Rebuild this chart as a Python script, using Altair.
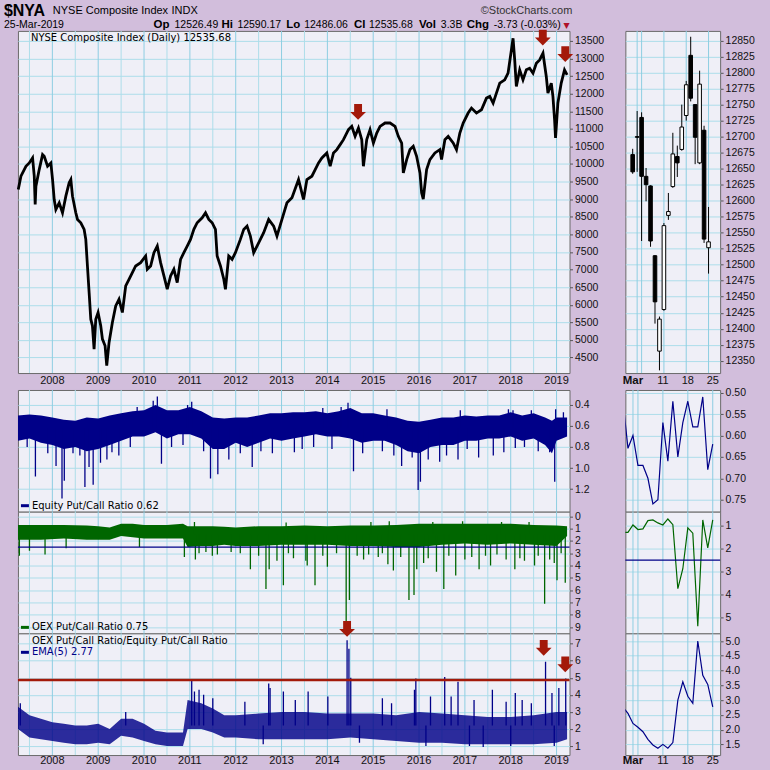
import altair as alt
import pandas as pd

# ===================== DATA =====================
# NYSE Composite, daily chart traced as (decimal year, price)
PRICE_T = [2007.256, 2007.314, 2007.423, 2007.496, 2007.568, 2007.605, 2007.625, 2007.641, 2007.713, 2007.786,
           2007.822, 2007.895, 2007.967, 2008.004, 2008.040, 2008.076, 2008.149, 2008.221, 2008.294, 2008.366,
           2008.403, 2008.439, 2008.511, 2008.548, 2008.620, 2008.693, 2008.729, 2008.765, 2008.802, 2008.838,
           2008.874, 2008.910, 2008.947, 2008.997, 2009.055, 2009.092, 2009.150, 2009.186, 2009.237, 2009.309,
           2009.382, 2009.454, 2009.527, 2009.600, 2009.672, 2009.745, 2009.817, 2009.926, 2010.035, 2010.071,
           2010.144, 2010.216, 2010.289, 2010.361, 2010.434, 2010.506, 2010.579, 2010.651, 2010.724, 2010.797,
           2010.869, 2010.942, 2011.014, 2011.087, 2011.159, 2011.268, 2011.341, 2011.413, 2011.486, 2011.558,
           2011.595, 2011.667, 2011.740, 2011.776, 2011.848, 2011.921, 2011.993, 2012.102, 2012.175, 2012.247,
           2012.320, 2012.392, 2012.465, 2012.538, 2012.610, 2012.719, 2012.828, 2012.900, 2013.009, 2013.118,
           2013.227, 2013.371, 2013.480, 2013.553, 2013.662, 2013.734, 2013.807, 2013.880, 2013.988, 2014.061,
           2014.133, 2014.206, 2014.279, 2014.351, 2014.460, 2014.532, 2014.605, 2014.678, 2014.750, 2014.786,
           2014.859, 2014.931, 2015.004, 2015.077, 2015.149, 2015.258, 2015.367, 2015.476, 2015.548, 2015.621,
           2015.657, 2015.730, 2015.802, 2015.874, 2015.947, 2016.020, 2016.056, 2016.092, 2016.165, 2016.237,
           2016.346, 2016.455, 2016.491, 2016.564, 2016.636, 2016.745, 2016.817, 2016.890, 2016.963, 2017.071,
           2017.144, 2017.253, 2017.362, 2017.471, 2017.543, 2017.616, 2017.688, 2017.761, 2017.869, 2017.942,
           2018.015, 2018.051, 2018.087, 2018.123, 2018.196, 2018.268, 2018.341, 2018.413, 2018.486, 2018.559,
           2018.631, 2018.704, 2018.776, 2018.812, 2018.885, 2018.921, 2018.957, 2018.978, 2019.029, 2019.102,
           2019.174, 2019.230]
PRICE_V = [9275, 9652, 9936, 10030, 10172, 9652, 8850, 9369, 9841, 10267,
           10220, 9936, 10030, 9558, 8991, 8708, 8897, 8613, 9086, 9464,
           9558, 9086, 8613, 8424, 8330, 8141, 7857, 7101, 6345, 5589,
           5400, 4739, 5589, 5778, 5400, 5022, 4833, 4266, 4928, 5495,
           5967, 6156, 5778, 6534, 6723, 6912, 7101, 7196, 7385, 7007,
           7101, 7479, 7668, 7196, 6818, 6440, 6818, 7007, 6629, 7290,
           7479, 7668, 7857, 8141, 8330, 8471, 8613, 8424, 8330, 8141,
           7385, 7101, 6723, 6440, 7385, 7290, 7479, 7857, 8141, 8235,
           7952, 7479, 7668, 7857, 8046, 8424, 8235, 7952, 8424, 8897,
           9038, 9558, 8991, 9558, 9652, 9841, 10030, 10172, 10314, 9936,
           10314, 10409, 10550, 10692, 10976, 11070, 10787, 11023, 10692, 9936,
           10692, 10976, 10597, 10881, 11070, 11165, 11165, 11070, 10787, 10597,
           9747, 10125, 10409, 10503, 10220, 9747, 9181, 9000, 9841, 10125,
           10314, 10409, 10125, 10692, 10787, 10597, 10409, 10881, 11165, 11448,
           11590, 11448, 11543, 11874, 11921, 11732, 12016, 12299, 12393, 12582,
           13244, 13574, 12960, 12204, 12677, 12393, 12677, 12724, 12582, 12866,
           12960, 13149, 12488, 12015, 12299, 11921, 11259, 10739, 11732, 12299,
           12677, 12536]

# Equity put/call ratio: envelope of the dense daily trace + isolated spikes
EQ_T = [2007.25, 2007.5, 2007.75, 2008.0, 2008.25, 2008.5, 2008.75, 2009.0, 2009.25, 2009.5,
        2009.75, 2010.0, 2010.25, 2010.5, 2010.75, 2011.0, 2011.25, 2011.5, 2011.75, 2012.0,
        2012.25, 2012.5, 2012.75, 2013.0, 2013.25, 2013.5, 2013.75, 2014.0, 2014.25, 2014.5,
        2014.75, 2015.0, 2015.25, 2015.5, 2015.75, 2016.0, 2016.25, 2016.5, 2016.75, 2017.0,
        2017.25, 2017.5, 2017.75, 2018.0, 2018.25, 2018.5, 2018.75, 2018.9, 2019.0, 2019.23]
EQ_LO = [0.50, 0.49, 0.50, 0.52, 0.54, 0.55, 0.52, 0.53, 0.50, 0.48,
         0.46, 0.45, 0.40, 0.45, 0.45, 0.42, 0.46, 0.52, 0.53, 0.52,
         0.52, 0.50, 0.48, 0.48, 0.47, 0.47, 0.46, 0.48, 0.46, 0.43,
         0.48, 0.48, 0.50, 0.52, 0.55, 0.56, 0.54, 0.52, 0.52, 0.50,
         0.51, 0.50, 0.50, 0.47, 0.50, 0.48, 0.52, 0.55, 0.52, 0.52]
EQ_HI = [0.74, 0.72, 0.76, 0.78, 0.82, 0.80, 0.84, 0.82, 0.78, 0.74,
         0.70, 0.70, 0.66, 0.72, 0.68, 0.68, 0.72, 0.82, 0.82, 0.76,
         0.80, 0.76, 0.72, 0.74, 0.72, 0.70, 0.68, 0.70, 0.70, 0.72,
         0.76, 0.74, 0.74, 0.78, 0.84, 0.86, 0.80, 0.78, 0.78, 0.74,
         0.74, 0.72, 0.72, 0.70, 0.74, 0.72, 0.78, 0.86, 0.74, 0.70]
EQ_SPK_T = [2007.63, 2007.90, 2008.08, 2008.21, 2008.26, 2008.71, 2008.80, 2008.89, 2009.19, 2009.45,
            2010.38, 2011.45, 2011.61, 2012.36, 2012.80, 2013.28, 2013.45, 2014.57, 2014.77, 2015.45,
            2015.62, 2015.85, 2015.98, 2016.03, 2016.45, 2016.85, 2017.30, 2017.62, 2018.10, 2018.85,
            2018.96, 2010.29, 2011.04, 2014.45, 2018.98,
            2007.45, 2008.45, 2008.60, 2009.05, 2009.30, 2009.70, 2010.60, 2010.85, 2011.30, 2011.85,
            2012.10, 2012.55, 2013.70, 2014.10, 2015.20, 2016.20, 2016.60, 2017.05, 2017.85, 2018.30,
            2018.60, 2009.85, 2010.20, 2010.95, 2013.90, 2014.30, 2015.30, 2016.90, 2017.95, 2018.05,
            2018.45, 2019.15]
EQ_SPK_V = [1.08, 0.86, 0.98, 1.29, 1.12, 1.18, 0.99, 1.16, 0.92, 0.88,
            0.96, 1.10, 1.06, 0.99, 0.86, 0.85, 0.82, 1.03, 0.86, 0.88,
            0.98, 0.90, 1.21, 1.13, 0.94, 0.92, 0.90, 0.88, 0.81, 0.85,
            1.13, 0.32, 0.37, 0.38, 0.44,
            0.80, 0.86, 0.88, 0.95, 0.85, 0.80, 0.80, 0.78, 0.84, 0.92,
            0.86, 0.84, 0.80, 0.82, 0.84, 0.92, 0.88, 0.82, 0.85, 0.80,
            0.84, 0.42, 0.36, 0.40, 0.43, 0.42, 0.44, 0.45, 0.44, 0.45,
            0.45, 0.47]

# OEX put/call ratio
OEX_T = [2007.25, 2007.75, 2008.25, 2008.75, 2009.0, 2009.25, 2009.5, 2009.75, 2010.0, 2010.5,
         2010.85, 2010.95, 2011.25, 2011.5, 2011.75, 2012.0, 2012.5, 2013.0, 2013.5, 2014.0,
         2014.5, 2015.0, 2015.5, 2016.0, 2016.5, 2017.0, 2017.5, 2018.0, 2018.5, 2019.0, 2019.23]
OEX_LO = [0.7, 0.7, 0.7, 0.75, 0.8, 0.9, 0.6, 0.6, 0.7, 0.7,
          0.6, 0.8, 0.8, 0.8, 0.85, 0.9, 0.8, 0.8, 0.75, 0.8,
          0.75, 0.75, 0.7, 0.6, 0.6, 0.6, 0.6, 0.6, 0.7, 0.75, 0.8]
OEX_HI = [1.9, 1.9, 1.8, 1.9, 1.9, 1.9, 1.6, 1.7, 1.8, 1.8,
          1.8, 2.5, 2.4, 2.4, 2.3, 2.4, 2.4, 2.3, 2.3, 2.3,
          2.4, 2.4, 2.5, 2.5, 2.3, 2.2, 2.3, 2.2, 2.3, 2.4, 1.6]
OEX_SPK_T = [2007.28, 2007.50, 2007.84, 2008.30, 2009.90, 2010.88, 2011.12, 2011.20, 2011.49, 2011.60,
             2011.90, 2012.32, 2012.66, 2012.73, 2012.90, 2013.04, 2013.26, 2013.53, 2013.56, 2013.73,
             2014.00, 2014.41, 2014.48, 2014.79, 2015.11, 2015.32, 2015.44, 2015.78, 2015.89, 2015.95,
             2016.38, 2016.54, 2016.80, 2017.00, 2017.31, 2017.56, 2017.90, 2018.09, 2018.30, 2018.52,
             2018.74, 2018.95, 2019.01, 2019.19,
             2011.35, 2012.10, 2012.50, 2013.15, 2013.90, 2014.20, 2014.65, 2014.90, 2015.20, 2015.60,
             2016.10, 2016.20, 2016.65, 2017.15, 2017.45, 2017.70, 2018.20, 2018.60, 2018.85, 2019.10,
             2011.10, 2013.10, 2014.95, 2015.35, 2016.30, 2016.95, 2017.80, 2018.40]
OEX_SPK_V = [3.2, 2.8, 3.1, 2.6, 2.5, 3.3, 3.5, 3.0, 3.2, 3.1,
             2.9, 4.3, 5.9, 4.3, 3.6, 5.6, 3.4, 3.6, 4.0, 5.6,
             4.1, 12.0, 6.8, 3.5, 3.3, 3.9, 4.4, 6.8, 6.4, 4.3,
             4.5, 5.9, 4.8, 3.5, 4.3, 4.0, 3.5, 4.3, 3.6, 4.0,
             7.1, 3.8, 5.2, 5.4,
             2.9, 3.0, 3.2, 3.0, 3.2, 3.0, 3.2, 3.1, 3.0, 3.3,
             3.8, 3.4, 3.2, 3.3, 3.2, 3.1, 3.4, 3.2, 3.5, 3.0,
             0.45, 0.5, 0.45, 0.4, 0.45, 0.4, 0.45, 0.45]
OEX_LEVEL = 2.5

# OEX P/C / Equity P/C, EMA(5)
RAT_T = [2007.25, 2007.5, 2007.75, 2008.0, 2008.25, 2008.5, 2008.75, 2009.0, 2009.25, 2009.5,
         2009.75, 2010.0, 2010.25, 2010.5, 2010.85, 2010.95, 2011.25, 2011.5, 2011.75, 2012.0,
         2012.5, 2013.0, 2013.5, 2014.0, 2014.5, 2015.0, 2015.5, 2016.0, 2016.5, 2017.0,
         2017.5, 2018.0, 2018.5, 2019.0, 2019.23]
RAT_LO = [2.0, 1.5, 1.4, 1.3, 1.2, 1.1, 1.1, 1.2, 1.1, 1.6,
          1.5, 1.3, 1.1, 1.0, 1.0, 2.0, 2.0, 1.8, 1.5, 1.5,
          1.4, 1.4, 1.4, 1.4, 1.5, 1.4, 1.3, 1.2, 1.2, 1.1,
          1.1, 1.1, 1.1, 1.2, 1.4]
RAT_HI = [3.3, 2.8, 2.6, 2.4, 2.3, 2.2, 2.2, 2.3, 2.0, 2.6,
          2.6, 2.3, 1.9, 1.8, 1.8, 3.7, 3.5, 3.2, 2.8, 2.8,
          2.9, 3.0, 3.0, 2.9, 2.9, 2.9, 2.8, 3.0, 2.9, 2.8,
          2.7, 2.7, 2.8, 3.0, 3.0]
RAT_SPK_T = [2011.04, 2011.20, 2011.30, 2012.72, 2012.75, 2013.04, 2013.58, 2014.01, 2014.43, 2014.47,
             2014.51, 2015.90, 2015.93, 2016.56, 2016.85, 2017.60, 2018.10, 2018.76, 2019.05, 2019.20,
             2007.30, 2009.60, 2011.10, 2011.50, 2012.20, 2013.30, 2015.20, 2015.40, 2016.25, 2016.70,
             2017.20, 2017.90, 2018.25, 2018.45, 2018.90,
             2012.60, 2014.70, 2016.15, 2017.10, 2017.40, 2018.00, 2018.95]
RAT_SPK_V = [4.86, 4.3, 4.0, 4.67, 4.4, 4.2, 4.2, 3.9, 7.19, 6.7,
             5.0, 4.3, 4.96, 5.05, 4.77, 4.3, 4.1, 5.93, 4.4, 4.96,
             3.5, 3.0, 4.2, 3.8, 3.6, 3.7, 3.8, 3.5, 3.9, 3.9,
             3.7, 3.6, 3.7, 3.5, 4.1,
             1.1, 1.2, 1.0, 1.0, 0.95, 1.0, 1.0]
RAT_LEVEL = 4.87

# signal arrows
ARROW_MAIN_T = [2014.67, 2018.70, 2019.19]
ARROW_MAIN_V = [11480, 13595, 13125]
ARROW_RAT_T = [2014.43, 2018.72, 2019.19]
ARROW_RAT_V = [7.86, 6.75, 5.79]

YEARS = list(range(2008, 2020))

# Last ~4 weeks (trading-day index: 0 = 27 Feb ... 18 = 25 Mar)
CANDLE_IDX = list(range(1, 19))
C_OPEN = [12672, 12700, 12730, 12638, 12623, 12514, 12365, 12430, 12577, 12622, 12669, 12680, 12733, 12827, 12750, 12659, 12710, 12526.49]
C_HIGH = [12681, 12740, 12738, 12651, 12624, 12515, 12419, 12565, 12612, 12706, 12686, 12750, 12787, 12856, 12750, 12803, 12717, 12590.17]
C_LOW = [12642, 12645, 12537, 12599, 12528, 12408, 12335, 12428, 12570, 12620, 12637, 12678, 12725, 12755, 12657, 12657, 12534, 12486.06]
C_CLOSE = [12645, 12699, 12638, 12625, 12537, 12442, 12415, 12561, 12583, 12673, 12659, 12715, 12781, 12760, 12699, 12782, 12540, 12535.68]
DAY_IDX = list(range(0, 19))
EQ_D = [0.52, 0.63, 0.60, 0.67, 0.67, 0.70, 0.76, 0.75, 0.57, 0.66, 0.52, 0.65, 0.57, 0.52, 0.58, 0.58, 0.51, 0.68, 0.62]
OEX_D = [1.29, 1.29, 0.97, 1.17, 1.14, 0.78, 0.75, 0.88, 0.97, 0.71, 0.96, 3.75, 2.88, 1.10, 1.33, 5.39, 0.75, 1.97, 0.75]
RAT_D = [2.76, 2.55, 2.21, 2.08, 1.93, 1.67, 1.48, 1.37, 1.50, 1.37, 1.56, 3.00, 3.62, 3.13, 2.89, 5.00, 3.84, 3.53, 2.77]
DATE_LAB_IDX = [2, 8, 13, 18]
DATE_LAB = ["Mar", "11", "18", "25"]
WEEK_GRID_IDX = [2, 3, 8, 13, 18]

# ===================== STYLE =====================
BG = "#D2BEDC"
PANEL = "#EFEFF7"
GRID = "#ADDDEA"
GRID_MAJ = "#8ECEE2"
BORDER = "#6A6A6A"
NAVY = "#000088"
GREEN = "#006600"
DARKRED = "#A3190A"
AX_FONT = "Liberation Sans"
LEG_FONT = "DejaVu Sans"
ARROW = "M-0.5,-1L0.5,-1L0.5,0L1,0L0,1L-1,0L-0.5,0Z"

LW, RW = 553, 95
H_HEAD, H_MAIN, H_STRIP, H_P, H_BOT = 29, 343, 17, 122, 15

XS = alt.Scale(domain=[2007.249, 2019.283], nice=False, zero=False)
XR = alt.Scale(domain=[0.48, 19.48], nice=False, zero=False)

PANEL_VIEW = alt.ViewBackground(fill=PANEL, stroke=BORDER, strokeWidth=1)
CLEAR_VIEW = alt.ViewBackground(fill="transparent", stroke="transparent")


def yaxis(values, fmt):
    return alt.Axis(orient="right", values=values, format=fmt, grid=True, gridColor=GRID, gridWidth=1,
                    domain=False, ticks=True, tickSize=3, tickColor="#555555", labelPadding=2,
                    labelFont=AX_FONT, labelFontSize=10.5, labelColor="#111111", title=None,
                    labelOverlap=False)


def XL(f):
    return alt.X(f"{f}:Q", scale=XS, axis=None)


def XD(f):
    return alt.X(f"{f}:Q", scale=XR, axis=None)


def txt(s, x, y, size=10, font=LEG_FONT, bold=False, color="#000000", align="left"):
    return alt.Chart(pd.DataFrame({"s": [s]})).mark_text(
        align=align, baseline="middle", font=font, fontSize=size,
        fontWeight="bold" if bold else "normal", color=color
    ).encode(x=alt.value(x), y=alt.value(y), text="s:N")


def dash(x1, x2, y, color):
    return alt.Chart(pd.DataFrame({"a": [0]})).mark_rule(color=color, strokeWidth=3).encode(
        x=alt.value(x1), x2=alt.value(x2), y=alt.value(y))


def spacer(w, h=1):
    return alt.Chart(pd.DataFrame({"a": [0]})).mark_rect(opacity=0).encode(
        x=alt.value(0), x2=alt.value(1), y=alt.value(0), y2=alt.value(1)).properties(
        width=w, height=h, view=CLEAR_VIEW)


def vgrid_left():
    minor = alt.Chart(pd.DataFrame({"g": [y - 0.5 for y in YEARS]})).mark_rule(
        color=GRID, strokeWidth=1).encode(x=XL("g"))
    major = alt.Chart(pd.DataFrame({"g": YEARS})).mark_rule(
        color=GRID_MAJ, strokeWidth=1).encode(x=XL("g"))
    return [minor, major]


def vgrid_right():
    return [alt.Chart(pd.DataFrame({"g": WEEK_GRID_IDX})).mark_rule(
        color=GRID_MAJ, strokeWidth=1).encode(x=XD("g"))]


# ===================== LEFT PANELS =====================
YP = alt.Scale(domain=[4058, 13783], nice=False, zero=False)
AXP = yaxis(list(range(4500, 14000, 500)), "d")
price = alt.Chart(pd.DataFrame({"t": PRICE_T, "v": PRICE_V})).mark_line(
    color="black", strokeWidth=2.8, strokeJoin="miter").encode(
    x=XL("t"), y=alt.Y("v:Q", scale=YP, axis=AXP))
arrows_main = alt.Chart(pd.DataFrame({"t": ARROW_MAIN_T, "v": ARROW_MAIN_V})).mark_point(
    shape=ARROW, filled=True, size=250, color=DARKRED, opacity=1).encode(
    x=XL("t"), y=alt.Y("v:Q", scale=YP, axis=AXP))
main = alt.layer(*vgrid_left(), price, arrows_main,
                 txt("NYSE Composite Index (Daily) 12535.68", 13, 7)).properties(
    width=LW, height=H_MAIN, view=PANEL_VIEW)

YE = alt.Scale(domain=[0.258, 1.415], reverse=True, nice=False, zero=False)
AXE = yaxis([0.4, 0.6, 0.8, 1.0, 1.2], ".1f")
eq_band = alt.Chart(pd.DataFrame({"t": EQ_T, "lo": EQ_LO, "hi": EQ_HI})).mark_area(
    color=NAVY, opacity=1, clip=True).encode(
    x=XL("t"), y=alt.Y("lo:Q", scale=YE, axis=AXE), y2="hi:Q")
eq_spk = alt.Chart(pd.DataFrame({"t": EQ_SPK_T, "v": EQ_SPK_V})).mark_rule(
    color=NAVY, strokeWidth=1.3, clip=True).encode(
    x=XL("t"), y=alt.Y("v:Q", scale=YE, axis=AXE), y2=alt.datum(0.62))
eq = alt.layer(*vgrid_left(), eq_band, eq_spk,
               dash(3, 11, 116, NAVY), txt("Equity Put/Call Ratio 0.62", 14, 116)).properties(
    width=LW, height=H_P, view=PANEL_VIEW)

YO = alt.Scale(domain=[-0.381, 9.51], reverse=True, nice=False, zero=False)
AXO = yaxis(list(range(0, 10)), "d")
oex_band = alt.Chart(pd.DataFrame({"t": OEX_T, "lo": OEX_LO, "hi": OEX_HI})).mark_area(
    color=GREEN, opacity=1, clip=True).encode(
    x=XL("t"), y=alt.Y("lo:Q", scale=YO, axis=AXO), y2="hi:Q")
oex_spk = alt.Chart(pd.DataFrame({"t": OEX_SPK_T, "v": OEX_SPK_V})).mark_rule(
    color=GREEN, strokeWidth=1.3, clip=True).encode(
    x=XL("t"), y=alt.Y("v:Q", scale=YO, axis=AXO), y2=alt.datum(1.5))
oex_lvl = alt.Chart(pd.DataFrame({"v": [OEX_LEVEL]})).mark_rule(color=NAVY, strokeWidth=1.2).encode(
    y=alt.Y("v:Q", scale=YO, axis=AXO))
oex = alt.layer(*vgrid_left(), oex_band, oex_spk, oex_lvl,
                dash(3, 11, 116, GREEN), txt("OEX Put/Call Ratio 0.75", 14, 116)).properties(
    width=LW, height=H_P, view=PANEL_VIEW)

YQ = alt.Scale(domain=[0.474, 7.60], nice=False, zero=False)
AXQ = yaxis(list(range(1, 8)), "d")
rat_band = alt.Chart(pd.DataFrame({"t": RAT_T, "lo": RAT_LO, "hi": RAT_HI})).mark_area(
    color=NAVY, opacity=0.82, clip=True).encode(
    x=XL("t"), y=alt.Y("lo:Q", scale=YQ, axis=AXQ), y2="hi:Q")
rat_spk = alt.Chart(pd.DataFrame({"t": RAT_SPK_T, "v": RAT_SPK_V})).mark_rule(
    color=NAVY, strokeWidth=1.3, clip=True).encode(
    x=XL("t"), y=alt.Y("v:Q", scale=YQ, axis=AXQ), y2=alt.datum(2.2))
rat_lvl = alt.Chart(pd.DataFrame({"v": [RAT_LEVEL]})).mark_rule(color=DARKRED, strokeWidth=2.5).encode(
    y=alt.Y("v:Q", scale=YQ, axis=AXQ))
arrows_rat = alt.Chart(pd.DataFrame({"t": ARROW_RAT_T, "v": ARROW_RAT_V})).mark_point(
    shape=ARROW, filled=True, size=250, color=DARKRED, opacity=1).encode(
    x=XL("t"), y=alt.Y("v:Q", scale=YQ, axis=AXQ))
rat = alt.layer(*vgrid_left(), rat_band, rat_spk, rat_lvl, arrows_rat,
                txt("OEX Put/Call Ratio/Equity Put/Call Ratio", 14, 8),
                dash(3, 11, 19, NAVY), txt("EMA(5) 2.77", 14, 19, color=NAVY)).properties(
    width=LW, height=H_P, view=PANEL_VIEW)

year_df = pd.DataFrame({"y": YEARS, "s": [str(y) for y in YEARS]})


def year_strip(h, ypos):
    return alt.Chart(year_df).mark_text(font=AX_FONT, fontSize=11, color="#111111",
                                        baseline="middle").encode(
        x=XL("y"), y=alt.value(ypos), text="s:N").properties(width=LW, height=h, view=CLEAR_VIEW)


# ===================== RIGHT PANELS =====================
YC = alt.Scale(domain=[12330.8, 12865.1], nice=False, zero=False)
AXC = yaxis(list(range(12350, 12851, 25)), "d")
cdf = pd.DataFrame({"i": CANDLE_IDX, "o": C_OPEN, "h": C_HIGH, "l": C_LOW, "c": C_CLOSE})
wick = alt.Chart(cdf).mark_rule(color="black", strokeWidth=1).encode(
    x=XD("i"), y=alt.Y("l:Q", scale=YC, axis=AXC), y2="h:Q")
body = alt.Chart(cdf).mark_bar(size=3.6, stroke="black", strokeWidth=1).encode(
    x=XD("i"), y=alt.Y("o:Q", scale=YC, axis=AXC), y2="c:Q",
    fill=alt.condition("datum.c < datum.o", alt.value("black"), alt.value("white")))
cmain = alt.layer(*vgrid_right(), wick, body).properties(width=RW, height=H_MAIN, view=PANEL_VIEW)

ddf = pd.DataFrame({"i": DAY_IDX, "eq": EQ_D, "oex": OEX_D, "rat": RAT_D})
YE2 = alt.Scale(domain=[0.4937, 0.778], reverse=True, nice=False, zero=False)
req = alt.layer(*vgrid_right(), alt.Chart(ddf).mark_line(color=NAVY, strokeWidth=1.2, clip=True).encode(
    x=XD("i"), y=alt.Y("eq:Q", scale=YE2, axis=yaxis([0.50, 0.55, 0.60, 0.65, 0.70, 0.75], ".2f")))
                ).properties(width=RW, height=H_P, view=PANEL_VIEW)
YO2 = alt.Scale(domain=[0.391, 5.696], reverse=True, nice=False, zero=False)
AXO2 = yaxis([1, 2, 3, 4, 5], "d")
roex = alt.layer(*vgrid_right(), alt.Chart(ddf).mark_line(color=GREEN, strokeWidth=1.2, clip=True).encode(
    x=XD("i"), y=alt.Y("oex:Q", scale=YO2, axis=AXO2)),
                 alt.Chart(pd.DataFrame({"v": [OEX_LEVEL]})).mark_rule(color=NAVY, strokeWidth=1.2).encode(
                     y=alt.Y("v:Q", scale=YO2, axis=AXO2))
                 ).properties(width=RW, height=H_P, view=PANEL_VIEW)
YQ2 = alt.Scale(domain=[1.139, 5.26], nice=False, zero=False)
rrat = alt.layer(*vgrid_right(), alt.Chart(ddf).mark_line(color=NAVY, strokeWidth=1.2, clip=True).encode(
    x=XD("i"), y=alt.Y("rat:Q", scale=YQ2,
                       axis=yaxis([1.5, 2.0, 2.5, 3.0, 3.5, 4.0, 4.5, 5.0], ".1f")))
                 ).properties(width=RW, height=H_P, view=PANEL_VIEW)

dlab = pd.DataFrame({"i": DATE_LAB_IDX, "s": DATE_LAB, "b": [1, 0, 0, 0]})


def date_strip(h, ypos):
    bold = alt.Chart(dlab).transform_filter("datum.b == 1").mark_text(
        font=AX_FONT, fontSize=11.5, fontWeight="bold", color="#111111", baseline="middle").encode(
        x=XD("i"), y=alt.value(ypos), text="s:N")
    norm = alt.Chart(dlab).transform_filter("datum.b == 0").mark_text(
        font=AX_FONT, fontSize=11, color="#111111", baseline="middle").encode(
        x=XD("i"), y=alt.value(ypos), text="s:N")
    return alt.layer(bold, norm).properties(width=RW, height=h, view=CLEAR_VIEW)


# ===================== HEADER =====================
O = 17  # header cell starts at x = 17
hdr_layers = [
    txt("$NYA", 3 - O, 9, size=16, font=AX_FONT, bold=True),
    txt("NYSE Composite Index", 52 - O, 9, size=11, font=AX_FONT),
    txt("INDX", 171 - O, 9, size=11, font=AX_FONT),
    txt("\u00a9StockCharts.com", 481 - O, 9, size=11, font=AX_FONT, color="#333333"),
    txt("25-Mar-2019", 3 - O, 23, size=10.5, font=AX_FONT),
]
for lab, xl, val, xv in [("Op", 153, "12526.49", 174), ("Hi", 221, "12590.17", 237),
                         ("Lo", 286, "12486.06", 304), ("Cl", 354, "12535.68", 369),
                         ("Vol", 419, "3.3B", 441), ("Chg", 467, "-3.73 (-0.03%)", 494)]:
    hdr_layers.append(txt(lab, xl - O, 23, size=11.5, font=AX_FONT, bold=True))
    hdr_layers.append(txt(val, xv - O, 23, size=10.5, font=AX_FONT))
hdr_layers.append(txt("\u25bc", 564 - O, 24, size=8, font=LEG_FONT, color="#B0102A"))
header = alt.layer(*hdr_layers).properties(width=LW, height=H_HEAD, view=CLEAR_VIEW)

# ===================== ASSEMBLY =====================
rows = [
    (header, spacer(RW)),
    (main, cmain),
    (year_strip(H_STRIP, 8), date_strip(H_STRIP, 8)),
    (eq, req),
    (oex, roex),
    (rat, rrat),
    (year_strip(H_BOT, 6), date_strip(H_BOT, 6)),
]
cells = []
for left, right in rows:
    cells += [spacer(17), left, spacer(56), right, spacer(49)]

chart = alt.concat(*cells, columns=5, spacing=0, bounds="flush", align="each").properties(
    background=BG, padding=0)

chart.save("out.html", embed_options={"renderer": "svg", "actions": False})
